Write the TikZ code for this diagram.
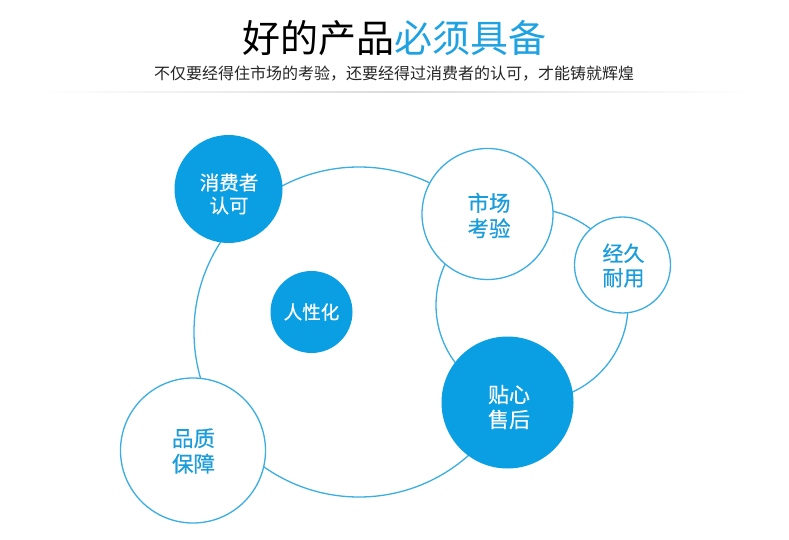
\documentclass[tikz,border=0pt]{standalone}
\usepackage{fontspec}
\setmainfont{Noto Sans CJK SC}
\newfontfamily\cjk{Noto Sans CJK SC}
\newfontfamily\cjkm[FakeBold=0.5]{Noto Sans CJK SC}
\usetikzlibrary{shadings}
\definecolor{fillblue}{HTML}{0A9FE3}
\definecolor{lineblue}{HTML}{3AAEE2}
\definecolor{textblue}{HTML}{1B9DDC}
\definecolor{titleblue}{HTML}{1EA2E2}
\tikzset{
  ring/.style={draw=lineblue, line width=1.3pt},
  solidc/.style={circle, fill=fillblue, inner sep=0pt},
  openc/.style={circle, draw=lineblue, line width=1.3pt, fill=white, inner sep=0pt},
  wlabel/.style={text=white, align=center, inner sep=0pt, font=\cjkm\fontsize{19.5}{23}\selectfont},
  blabel/.style={text=textblue, align=center, inner sep=0pt, font=\cjkm\fontsize{21.5}{25.5}\selectfont},
}
\begin{document}
\begin{tikzpicture}[x=1pt,y=-1pt]
\useasboundingbox (0,0) rectangle (789,540);
\fill[white] (0,0) rectangle (789,540);
% title
\node (title) at (394,38) {\fontsize{38}{40}\selectfont 好的产品\textcolor{titleblue}{必须具备}};
\node (sub) at (394,74) {\fontsize{16}{18}\selectfont\color{black!85} 不仅要经得住市场的考验，还要经得过消费者的认可，才能铸就辉煌};
\shade[left color=white, right color=black!14] (40,91.5) rectangle (394,92.5);
\shade[left color=black!14, right color=white] (394,91.5) rectangle (750,92.5);
% background rings
\draw[ring] (359,332) circle (165);
\draw[ring, fill=white] (532,305) circle (96);
% circles
\node[solidc, minimum size=108pt] (xf) at (228.5,189) {};
\node[wlabel] (xfl) at (229,194) {消费者\\认可};
\node[solidc, minimum size=82pt] (rx) at (311.5,312) {};
\node[wlabel, font=\cjkm\fontsize{18.5}{22}\selectfont] (rxl) at (rx) {人性化};
\node[openc, minimum size=131pt] (sc) at (487.5,214) {};
\node[blabel] (scl) at (489,215.5) {市场\\考验};
\node[openc, minimum size=96pt] (jj) at (622.5,265) {};
\node[blabel, font=\cjkm\fontsize{21}{24.5}\selectfont] (jjl) at (623.5,265.5) {经久\\耐用};
\node[solidc, minimum size=132pt] (tx) at (507.5,402.5) {};
\node[wlabel, font=\cjkm\fontsize{21}{25}\selectfont] (txl) at (509,407) {贴心\\售后};
\node[openc, minimum size=145pt] (pz) at (193,450.5) {};
\node[blabel] (pzl) at (193.5,451) {品质\\保障};
\end{tikzpicture}
\end{document}
